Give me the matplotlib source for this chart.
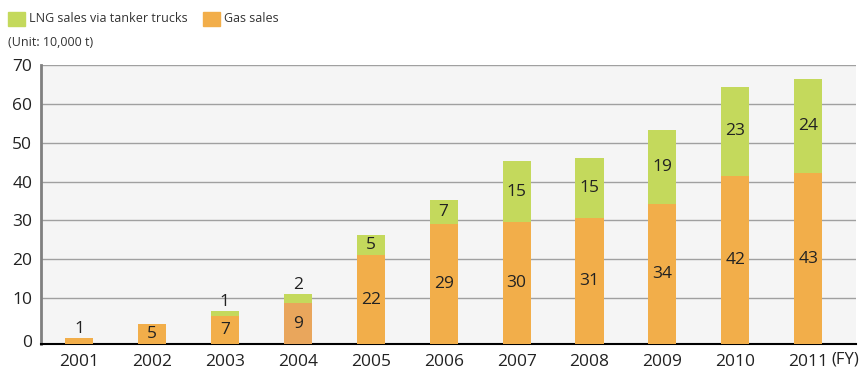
import matplotlib
matplotlib.use("Agg")
import matplotlib.pyplot as plt
import matplotlib.patches as patches
import matplotlib.transforms as mtransforms

# Data (unit: 10,000 t)
years = ["2001", "2002", "2003", "2004", "2005", "2006", "2007", "2008", "2009", "2010", "2011"]
gas_sales = [-0.3, 3.4, 5.5, 8.8, 21.1, 29.0, 29.6, 30.6, 34.3, 41.4, 42.1]
lng_sales = [0.0, 0.0, 1.2, 2.3, 5.1, 6.2, 15.6, 15.4, 18.9, 23.0, 24.3]
gas_labels = ["1", "5", "7", "9", "22", "29", "30", "31", "34", "42", "43"]
lng_labels = ["", "", "1", "2", "5", "7", "15", "15", "19", "23", "24"]
highlight_year = "2004"

floor = -1.72
orange = "#F2AE4A"
orange_dark = "#E9A65C"
green = "#C4D95C"
txt = "#222222"

plt.rcParams['font.family'] = ['Open Sans', 'DejaVu Sans']

fig = plt.figure(figsize=(8.62, 3.72), dpi=100)
ax = fig.add_axes([0.0472, 0.0753, 0.9455, 0.7507])
ax.set_facecolor("#F5F5F5")

x = list(range(len(years)))
gas_colors = [orange_dark if y == highlight_year else orange for y in years]
gas_h = [g - floor for g in gas_sales]
ax.bar(x, gas_h, bottom=floor, width=0.385, color=gas_colors, zorder=3)
ax.bar(x, lng_sales, bottom=gas_sales, width=0.385, color=green, zorder=3)

# value labels
fs = 12.5
for i in x:
    seg = gas_sales[i] - floor
    if seg < 3:
        ax.text(i, gas_sales[i] + 0.3, gas_labels[i], ha="center", va="bottom",
                fontsize=fs, color=txt, zorder=4)
    else:
        ax.text(i, floor + seg / 2, gas_labels[i], ha="center", va="center",
                fontsize=fs, color=txt, zorder=4)
    if lng_labels[i]:
        top = gas_sales[i] + lng_sales[i]
        if lng_sales[i] < 3:
            ax.text(i, top + 0.3, lng_labels[i], ha="center", va="bottom",
                    fontsize=fs, color=txt, zorder=4)
        else:
            ax.text(i, gas_sales[i] + lng_sales[i] / 2, lng_labels[i], ha="center",
                    va="center", fontsize=fs, color=txt, zorder=4)

ax.set_xlim(-0.525, 10.65)
ax.set_ylim(floor, 70)
ax.set_xticks(x)
ax.set_xticklabels(years, fontsize=fs, color=txt)
ax.set_yticks(range(0, 71, 10))
ax.set_yticklabels([str(v) for v in range(0, 71, 10)], fontsize=fs, color=txt)
ax.tick_params(axis="both", length=0)
ax.tick_params(axis="y", pad=6)
ax.tick_params(axis="x", pad=7)

# shift the "0" label down toward the axis line
offset = mtransforms.ScaledTranslation(0, -4 / 100, fig.dpi_scale_trans)
ax.get_yticklabels()[0].set_transform(ax.get_yticklabels()[0].get_transform() + offset)

ax.yaxis.grid(True, color="#A0A0A0", linewidth=1.0, zorder=1)
ax.set_axisbelow(True)
ax.get_ygridlines()[0].set_visible(False)

for s in ["top", "right"]:
    ax.spines[s].set_visible(False)
ax.spines["left"].set_color("#808080")
ax.spines["left"].set_linewidth(2)
ax.spines["bottom"].set_color("black")
ax.spines["bottom"].set_linewidth(1.5)

# "(FY)" next to the last year label
W, H = 862, 372
fig.text(831 / W, 1 - 360 / H, "(FY)", ha="left", va="center",
         fontsize=12, color=txt)

# legend
fig.add_artist(patches.Rectangle((8 / W, 1 - 26 / H), 17 / W, 14 / H,
                                 transform=fig.transFigure, color=green))
fig.text(29 / W, 1 - 18 / H, "LNG sales via tanker trucks", fontsize=9,
         va="center", ha="left", color="#333333")
fig.add_artist(patches.Rectangle((203 / W, 1 - 26 / H), 17 / W, 14 / H,
                                 transform=fig.transFigure, color=orange))
fig.text(224 / W, 1 - 18 / H, "Gas sales", fontsize=9, va="center", ha="left",
         color="#333333")
fig.text(8 / W, 1 - 43 / H, "(Unit: 10,000 t)", fontsize=9, va="center", ha="left",
         color="#333333")

fig.savefig("out.png", dpi=100)
